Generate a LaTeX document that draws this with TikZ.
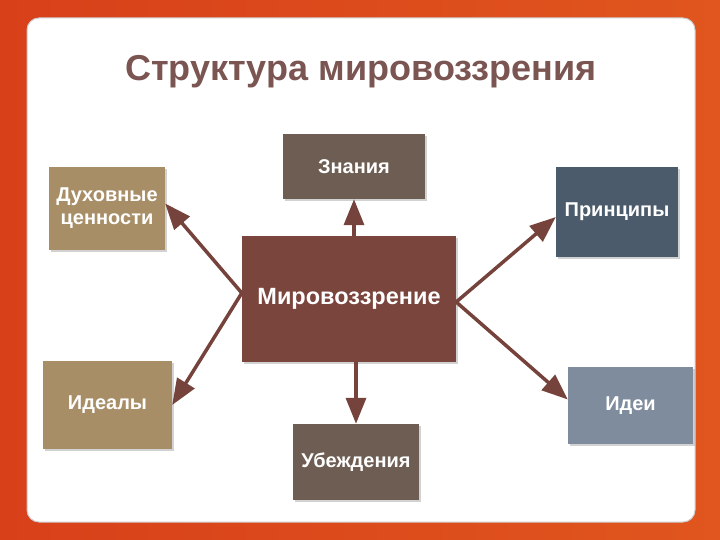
\documentclass[tikz,border=0pt]{standalone}
\usepackage{fontspec}
\setmainfont{Liberation Sans}
\usetikzlibrary{arrows.meta, shadows}

\definecolor{titlecol}{HTML}{7B5552}
\definecolor{mvcol}{HTML}{7A453D}
\definecolor{browncol}{HTML}{6D5D52}
\definecolor{tancol}{HTML}{A88E66}
\definecolor{princol}{HTML}{4B5B6C}
\definecolor{ideicol}{HTML}{7E8C9D}
\definecolor{arrowcol}{HTML}{76433C}
\definecolor{bgleft}{HTML}{D8401A}
\definecolor{bgmid}{HTML}{F08A30}
\definecolor{bgright}{HTML}{E0561E}

\tikzset{
  box/.style = {rectangle, text=white, font=\bfseries\fontsize{20}{23}\selectfont,
                align=center, inner sep=2pt,
                drop shadow={shadow xshift=2pt, shadow yshift=-2pt, opacity=0.35}},
  conn/.style = {draw=arrowcol, line width=3.5pt, -{Triangle[length=26pt, width=20pt]}}
}

\begin{document}
\begin{tikzpicture}[x=1pt, y=-1pt]
    \useasboundingbox (0,0) rectangle (720,540);
    % background and panel
    \shade[left color=bgleft, middle color=bgmid, right color=bgright]
        (0,0) rectangle (720,540);
    \fill[white, draw=gray!40, line width=1pt, rounded corners=12pt] (27,18) rectangle (695,522);

    \node (title) [text=titlecol, font=\bfseries\fontsize{36}{40}\selectfont] at (361,72) {Структура мировоззрения};

    \node (mv) [box, fill=mvcol, minimum width=214pt, minimum height=126pt,
                font=\bfseries\fontsize{23.5}{27}\selectfont] at (349,299) {Мировоззрение};
    \node (zn) [box, fill=browncol, minimum width=142pt, minimum height=65pt] at (354,166.5) {Знания};
    \node (duh) [box, fill=tancol, minimum width=116pt, minimum height=83pt] at (107,208.5) {Духовные\\ценности};
    \node (prin) [box, fill=princol, minimum width=122pt, minimum height=90pt] at (617,212) {Принципы};
    \node (ideal) [box, fill=tancol, minimum width=129pt, minimum height=88pt] at (107.5,405) {Идеалы};
    \node (idei) [box, fill=ideicol, minimum width=125pt, minimum height=77pt] at (630.5,405.5) {Идеи};
    \node (ub) [box, fill=browncol, minimum width=126pt, minimum height=76pt] at (356,462) {Убеждения};

    \draw[conn] (mv.north -| zn.south) -- (zn.south);
    \draw[conn] (ub.north |- mv.south) -- (ub.north);
    \draw[conn] ([yshift=6pt]mv.west) -- ([yshift=5pt]duh.east);
    \draw[conn] ([yshift=6pt]mv.west) -- (ideal.east);
    \draw[conn] ([yshift=-3pt]mv.east) -- ([yshift=-5pt]prin.west);
    \draw[conn] ([yshift=-3pt]mv.east) -- ([yshift=6pt]idei.west);
\end{tikzpicture}
\end{document}
